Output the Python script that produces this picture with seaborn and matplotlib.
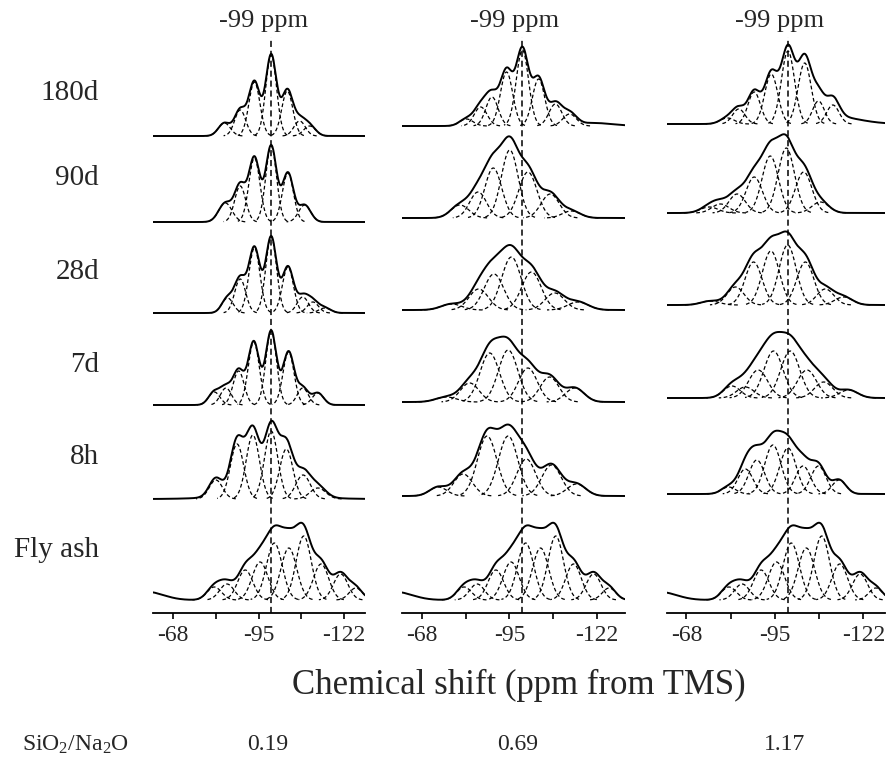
import numpy as np
import pandas as pd
import matplotlib
matplotlib.use("Agg")
import matplotlib.pyplot as plt
import seaborn as sns

# ---------------- data ----------------
ROWS = ["180d", "90d", "28d", "7d", "8h", "Fly ash"]
RATIO_LABEL = "SiO$_2$/Na$_2$O"
RATIOS = ["0.19", "0.69", "1.17"]
REF_SHIFT = -99          # ppm, dashed reference line
TICKS = [-68, -81.5, -95, -108.5, -122]
TICK_LABELS = ["-68", "", "-95", "", "-122"]

# fly ash (same starting material in every column)
fly_pos = [-81.0, -85.0, -90.8, -95.5, -100.0, -104.6, -109.3, -114.8, -121.0, -125.8]
fly_amp = [13, 16, 30, 38, 57, 52, 64, 36, 26, 12]
fly_wid = [2.3, 2.3, 2.4, 2.5, 2.5, 2.5, 2.4, 2.4, 2.3, 2.1]
fly_bg = [-60.0, 8.0, 5.0]

# column 1 : SiO2/Na2O = 0.19   (component centre ppm, height, sigma)
c1_pos = [[-84.2, -89.2, -93.7, -99.0, -104.1, -108.0, -111.2],
          [-84.5, -89.2, -93.7, -99.0, -104.3, -109.6],
          [-85.2, -89.2, -93.7, -99.0, -104.3, -109.0, -112.2, -116.0],
          [-81.0, -84.7, -88.7, -93.5, -99.0, -104.5, -109.0, -113.8],
          [-81.5, -88.2, -93.2, -99.0, -103.8, -109.1, -113.8],
          fly_pos]
c1_amp = [[13, 26, 54, 81, 45, 15, 10],
          [19, 36, 64, 76, 49, 17],
          [15, 34, 65, 76, 46, 16, 11, 5],
          [13, 17, 34, 63, 74, 53, 17, 12],
          [19, 55, 64, 68, 50, 24, 11],
          fly_amp]
c1_wid = [[1.9, 1.75, 1.75, 1.7, 1.75, 1.8, 1.9],
          [2.1, 1.75, 1.75, 1.7, 1.75, 1.9],
          [1.8, 1.75, 1.75, 1.7, 1.75, 1.8, 1.8, 1.9],
          [1.8, 1.75, 1.75, 1.75, 1.7, 1.75, 1.75, 1.8],
          [2.1, 2.1, 2.1, 2.1, 2.1, 2.3, 2.5],
          fly_wid]
c1_bg = [None, None, None, None, [-97.0, 5.0, 12.0], fly_bg]

# column 2 : SiO2/Na2O = 0.69
c2_pos = [[-81.7, -86.1, -89.6, -94.1, -99.0, -104.0, -109.2, -113.6],
          [-79.7, -85.3, -90.0, -95.1, -100.7, -107.6, -114.1],
          [-77.1, -85.5, -90.2, -95.6, -101.8, -109.0, -116.2],
          [-75.5, -82.7, -88.9, -94.6, -100.7, -107.4, -115.2],
          [-73.0, -80.7, -88.1, -94.6, -100.2, -108.0, -115.7],
          fly_pos]
c2_amp = [[7, 19, 29, 54, 76, 47, 22, 12],
          [13, 26, 50, 68, 46, 24, 7],
          [6, 21, 36, 53, 38, 17, 8],
          [5, 19, 49, 52, 34, 25, 14],
          [9, 22, 60, 60, 37, 31, 12],
          fly_amp]
c2_wid = [[2.1, 2.0, 1.9, 1.9, 1.9, 1.9, 2.0, 2.1],
          [2.8, 2.6, 2.6, 2.6, 2.8, 2.8, 2.8],
          [3.2, 3.0, 3.0, 3.0, 3.0, 3.0, 3.2],
          [3.2, 2.9, 3.0, 3.0, 2.9, 2.9, 2.9],
          [2.7, 2.9, 3.0, 3.0, 2.9, 3.0, 2.9],
          fly_wid]
c2_bg = [[-121.0, 3.0, 6.0], None, None, None, None, fly_bg]

# column 3 : SiO2/Na2O = 1.17
c3_pos = [[-80.5, -84.0, -88.7, -93.9, -99.0, -104.1, -108.3, -112.7],
          [-75.0, -78.4, -83.5, -88.7, -93.6, -98.5, -103.8, -108.9],
          [-75.3, -83.0, -88.5, -93.8, -98.9, -104.3, -110.4, -116.0],
          [-81.9, -86.0, -89.9, -94.6, -99.7, -104.8, -109.9, -117.5],
          [-80.9, -86.0, -89.5, -94.4, -99.0, -103.6, -108.3, -114.6],
          fly_pos]
c3_amp = [[6, 15, 32, 50, 73, 61, 23, 19],
          [6, 9, 19, 36, 57, 65, 41, 11],
          [4, 18, 43, 54, 60, 43, 16, 8],
          [12, 11, 28, 47, 47, 28, 16, 8],
          [7, 25, 34, 49, 46, 28, 28, 14],
          fly_amp]
c3_wid = [[2.2, 1.9, 1.9, 2.0, 2.0, 2.0, 1.8, 1.9],
          [2.7, 2.6, 2.5, 2.5, 2.5, 2.5, 2.5, 2.6],
          [2.8, 2.6, 2.6, 2.6, 2.6, 2.6, 2.6, 2.7],
          [2.6, 2.7, 2.9, 2.9, 2.9, 2.9, 2.8, 2.8],
          [2.2, 2.3, 2.4, 2.5, 2.5, 2.3, 2.3, 2.1],
          fly_wid]
c3_bg = [[-112.0, 8.0, 8.0], None, None, None, None, fly_bg]

COLUMNS = [(c1_pos, c1_amp, c1_wid, c1_bg),
           (c2_pos, c2_amp, c2_wid, c2_bg),
           (c3_pos, c3_amp, c3_wid, c3_bg)]

# ---------------- layout ----------------
W, H = 887, 760
AXIS_Y, TOP_Y = 612.7, 37.0
COL_PX = [(153, 365), (402, 625), (667, 885)]
COL_XLIM = [(-61.6, -128.7), (-61.8, -130.7), (-62.1, -128.6)]
BASE_Y = [[136, 222, 313, 405, 499, 600],
          [126, 218, 310, 402, 496, 600],
          [124, 213, 305, 398, 494, 600]]
ROW_LABEL_Y = [93, 178, 272, 365, 457, 550]
RATIO_X = [268, 518, 785]

sns.set_theme(style="white")
plt.rcParams["font.family"] = ["Liberation Serif", "DejaVu Serif"]
plt.rcParams["mathtext.default"] = "regular"

fig = plt.figure(figsize=(W / 100, H / 100), dpi=100)


def gauss(x, c, a, s):
    return a * np.exp(-(x - c) ** 2 / (2.0 * s ** 2))


for ci, (pos, amp, wid, bg) in enumerate(COLUMNS):
    l, r = COL_PX[ci]
    ax = fig.add_axes([l / W, 1 - AXIS_Y / H, (r - l) / W, (AXIS_Y - TOP_Y) / H])
    xl, xr = COL_XLIM[ci]
    grid = np.linspace(xl, xr, 800)
    frames = []
    uid = 0
    for ri in range(len(ROWS)):
        off = AXIS_Y - BASE_Y[ci][ri]
        env = np.zeros_like(grid)
        for c, a, s in zip(pos[ri], amp[ri], wid[ri]):
            env += gauss(grid, c, a, s)
            xs = np.linspace(c - 3.0 * s, c + 3.0 * s, 80)
            frames.append(pd.DataFrame({"ppm": xs, "y": gauss(xs, c, a, s) + off,
                                        "unit": uid, "kind": "comp"}))
            uid += 1
        if bg[ri] is not None:
            env += gauss(grid, *bg[ri])
        frames.append(pd.DataFrame({"ppm": grid, "y": env + off, "unit": uid, "kind": "env"}))
        uid += 1
    df = pd.concat(frames, ignore_index=True)
    sns.lineplot(data=df, x="ppm", y="y", units="unit", estimator=None,
                 style="kind", style_order=["env", "comp"],
                 dashes={"env": "", "comp": (3, 2)},
                 size="kind", sizes={"env": 1.4, "comp": 0.9},
                 color="black", legend=False, ax=ax)
    ax.axvline(REF_SHIFT, color="black", lw=1.1, ls=(0, (4, 2.5)))
    ax.set_xlim(xl, xr)
    ax.set_ylim(0, AXIS_Y - TOP_Y)
    ax.set_xticks(TICKS)
    ax.set_xticklabels(TICK_LABELS)
    ax.set_yticks([])
    ax.set_xlabel("")
    ax.set_ylabel("")
    for sp in ["left", "right", "top"]:
        ax.spines[sp].set_visible(False)
    ax.spines["bottom"].set_color("black")
    ax.spines["bottom"].set_linewidth(1.3)
    ax.tick_params(axis="x", direction="out", length=4, width=1.2, color="black",
                   labelsize=17, pad=5, bottom=True)
    ax.patch.set_alpha(0)
    ax.annotate(f"{REF_SHIFT} ppm", xy=(REF_SHIFT, 1.0), xycoords=ax.get_xaxis_transform(),
                xytext=(-8, 10), textcoords="offset pixels", ha="center", va="baseline",
                fontsize=19)
    fig.text(RATIO_X[ci] / W, 1 - 745 / H, RATIOS[ci], ha="center", va="center", fontsize=17)

for lab, y in zip(ROWS, ROW_LABEL_Y):
    fig.text(99 / W, 1 - y / H, lab, ha="right", va="center", fontsize=21)

fig.text(519 / W, 1 - 685 / H, "Chemical shift (ppm from TMS)", ha="center", va="center",
         fontsize=25)
fig.text(22 / W, 1 - 745 / H, RATIO_LABEL, ha="left", va="center", fontsize=17)

fig.savefig("out.png", dpi=100, facecolor="white")
